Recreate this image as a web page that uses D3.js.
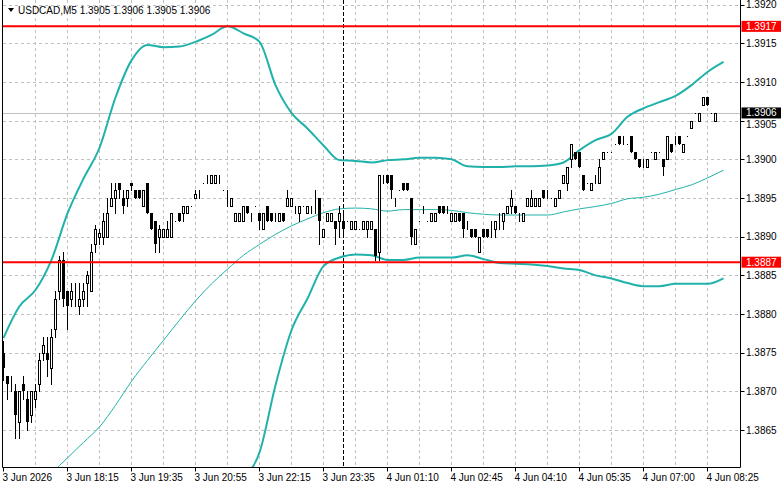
<!DOCTYPE html>
<html><head><meta charset="utf-8">
<script src="https://cdn.jsdelivr.net/npm/d3@7"></script>
<style>
body{margin:0;background:#fff}
svg{display:block}
text{font-family:"Liberation Sans",Arial,sans-serif;font-size:10px}
</style>
</head><body>
<svg id="chart" width="781" height="489"></svg>
<script>
// ---------- data ----------
const symbolName = "USDCAD,M5";
const headerOHLC = ["1.3905", "1.3906", "1.3905", "1.3906"];
const priceTicks = [1.3920, 1.3915, 1.3910, 1.3905, 1.3900, 1.3895, 1.3890, 1.3885, 1.3880, 1.3875, 1.3870, 1.3865];
const timeLabels = ["3 Jun 2026", "3 Jun 18:15", "3 Jun 19:35", "3 Jun 20:55", "3 Jun 22:15", "3 Jun 23:35",
  "4 Jun 01:10", "4 Jun 02:45", "4 Jun 04:10", "4 Jun 05:35", "4 Jun 07:00", "4 Jun 08:25"];
const timeLabelBars = [0, 16, 32, 48, 64, 80, 96, 112, 128, 144, 160, 176];
const gridBars = [8, 16, 24, 32, 40, 48, 56, 64, 72, 80, 88, 96, 104, 112, 120, 128, 136, 144, 152, 160, 168, 176];
const daySeparatorBar = 85;

const open = [1.38750,1.3872,1.3871,1.3870,1.3866,1.3871,1.3869,1.3867,1.3869,1.3871,
 1.3875,1.3875,1.3873,1.3878,1.3883,1.3887,1.3883,1.3882,1.3883,1.3881,
 1.3882,1.3884,1.3883,1.3889,1.3890,1.3890,1.3890,1.3894,1.3895,1.3897,
 1.3895,1.3895,1.3897,1.3896,1.3896,1.3894,1.3897,1.3893,1.3892,1.3890,
 1.3890,1.3890,1.3890,1.3892,1.3893,1.3893,1.3893,1.3894,1.3895,1.3896,
 1.3897,1.3898,1.3897,1.3897,1.3898,1.3896,1.3895,1.3894,1.3892,1.3892,
 1.3892,1.3894,1.3893,1.3894,1.3893,1.3891,1.3894,1.3893,1.3893,1.3892,
 1.3893,1.3894,1.3894,1.3894,1.3893,1.3894,1.3893,1.3894,1.3894,1.3895,
 1.3890,1.3892,1.3892,1.3892,1.3892,1.3892,1.3892,1.3891,1.3891,1.3891,
 1.3891,1.3891,1.3891,1.3891,1.3888,1.3898,1.3898,1.3898,1.3895,1.3896,
 1.3897,1.3897,1.3895,1.3889,1.3892,1.3893,1.3892,1.3892,1.3892,1.3894,
 1.3894,1.3893,1.3892,1.3892,1.3893,1.3893,1.3892,1.3891,1.3891,1.3888,
 1.3891,1.3891,1.3891,1.3891,1.3892,1.3892,1.3893,1.3894,1.3894,1.3893,
 1.3892,1.3894,1.3894,1.3894,1.3894,1.3896,1.3896,1.3895,1.3894,1.3895,
 1.3897,1.3897,1.3900,1.3901,1.3901,1.3898,1.3897,1.3896,1.3898,1.3897,
 1.3900,1.3901,1.3901,1.3902,1.3903,1.3903,1.3902,1.3903,1.3901,1.3900,
 1.3900,1.3899,1.3901,1.3900,1.3901,1.3900,1.3900,1.3902,1.3903,1.3903,
 1.3901,1.3903,1.3904,1.3906,1.3905,1.3907,1.3908,1.3906,1.3905];
const high = [1.38765,1.3872,1.3872,1.3871,1.3870,1.3872,1.3870,1.3870,1.3871,1.3875,
 1.3877,1.3877,1.3878,1.3883,1.38875,1.3888,1.3883,1.3884,1.3884,1.3884,
 1.3884,1.38855,1.3889,1.38915,1.3891,1.3893,1.3895,1.3897,1.3897,1.3897,
 1.3896,1.3896,1.3897,1.3896,1.3896,1.3896,1.3897,1.3893,1.3892,1.38915,
 1.3891,1.3892,1.3893,1.3892,1.3893,1.3894,1.3894,1.3894,1.3896,1.3896,
 1.3897,1.3898,1.3898,1.3898,1.3898,1.3896,1.3896,1.3895,1.3893,1.3893,
 1.3894,1.3894,1.3893,1.3894,1.3893,1.3893,1.3894,1.3893,1.3893,1.3893,
 1.3893,1.3896,1.3895,1.3894,1.3894,1.3894,1.3894,1.3894,1.3896,1.3895,
 1.3891,1.3893,1.3893,1.3892,1.3894,1.3893,1.3892,1.3892,1.3892,1.3891,
 1.3892,1.3892,1.3892,1.3891,1.3898,1.3898,1.3898,1.3898,1.3895,1.3896,
 1.3897,1.3897,1.3895,1.3891,1.3892,1.3894,1.3892,1.3893,1.3893,1.3894,
 1.3894,1.3894,1.3893,1.3893,1.3893,1.3893,1.3892,1.3891,1.3891,1.3890,
 1.3891,1.3891,1.3892,1.3892,1.3893,1.3893,1.3894,1.3896,1.3894,1.3893,
 1.3893,1.3895,1.3896,1.3895,1.3895,1.3896,1.3896,1.3895,1.3895,1.3896,
 1.3898,1.3899,1.3902,1.3901,1.3901,1.3898,1.3897,1.3897,1.3898,1.3900,
 1.3901,1.3901,1.3901,1.3902,1.3903,1.3903,1.3902,1.3903,1.3901,1.3900,
 1.3900,1.3900,1.3901,1.3901,1.3901,1.3900,1.3903,1.3902,1.3903,1.3903,
 1.3902,1.3903,1.3905,1.3906,1.3906,1.3908,1.3908,1.3906,1.3906];
const low = [1.38715,1.3869,1.3870,1.3864,1.3864,1.3869,1.3865,1.3866,1.3868,1.3870,
 1.3874,1.3872,1.3871,1.3877,1.3882,1.3881,1.3878,1.3881,1.3881,1.3880,
 1.3881,1.3881,1.3883,1.3888,1.3889,1.3889,1.3890,1.3894,1.3893,1.3895,
 1.3893,1.3894,1.3896,1.3895,1.3895,1.3894,1.3893,1.3891,1.3888,1.3888,
 1.3890,1.3890,1.3890,1.3892,1.3892,1.3892,1.3893,1.3894,1.3895,1.3895,
 1.3897,1.3897,1.3897,1.3897,1.3897,1.3896,1.3894,1.3894,1.3892,1.3892,
 1.3892,1.3893,1.3892,1.3894,1.3891,1.3891,1.3892,1.3892,1.3892,1.3892,
 1.3892,1.3894,1.3894,1.3893,1.3892,1.3894,1.3893,1.3893,1.3893,1.3889,
 1.3890,1.3892,1.3892,1.3889,1.3890,1.3890,1.3892,1.3891,1.3891,1.3891,
 1.3891,1.3890,1.3891,1.3887,1.3887,1.3897,1.3897,1.3895,1.3894,1.3896,
 1.3896,1.3896,1.3889,1.3889,1.3892,1.3893,1.3892,1.3892,1.3892,1.3893,
 1.3893,1.3893,1.3892,1.3892,1.3892,1.3890,1.3891,1.3890,1.3890,1.3888,
 1.3890,1.3890,1.3890,1.3890,1.3891,1.3891,1.3893,1.3893,1.3893,1.3892,
 1.3892,1.3894,1.3894,1.3894,1.3894,1.3895,1.3895,1.3895,1.3894,1.3895,
 1.3897,1.3896,1.3899,1.3900,1.3899,1.3896,1.3897,1.3896,1.3897,1.3897,
 1.3900,1.3901,1.3901,1.3902,1.3902,1.3902,1.3902,1.3901,1.3900,1.3899,
 1.3899,1.3899,1.3901,1.3900,1.3901,1.3898,1.3900,1.3901,1.3902,1.3902,
 1.3901,1.3903,1.3904,1.3906,1.3905,1.3907,1.3907,1.3906,1.3905];
const close = [1.38730,1.3871,1.3871,1.3867,1.3870,1.3870,1.3866,1.3870,1.3870,1.3874,
 1.3876,1.3874,1.3877,1.3882,1.3887,1.3882,1.3881,1.3883,1.3883,1.3882,
 1.3883,1.3885,1.3888,1.3891,1.38905,1.3892,1.3893,1.3895,1.3896,1.3896,
 1.3894,1.3896,1.38965,1.3895,1.3895,1.3896,1.3893,1.3891,1.3889,1.3891,
 1.3891,1.3891,1.3893,1.3892,1.3892,1.3894,1.3894,1.3894,1.38955,1.3896,
 1.3897,1.3898,1.3898,1.3898,1.3898,1.3896,1.3895,1.3895,1.3893,1.3893,
 1.3894,1.3893,1.3893,1.3894,1.3892,1.3893,1.3892,1.3892,1.3893,1.3893,
 1.3892,1.3895,1.3895,1.3894,1.3894,1.3894,1.3894,1.3894,1.3894,1.3892,
 1.3891,1.3893,1.3893,1.3891,1.3893,1.3891,1.3892,1.3892,1.3892,1.3891,
 1.3892,1.3892,1.3892,1.38875,1.3898,1.3898,1.3897,1.3896,1.3895,1.3896,
 1.3896,1.3896,1.3890,1.3891,1.3892,1.3893,1.3892,1.3893,1.3893,1.3893,
 1.3893,1.3893,1.3893,1.3893,1.3892,1.3891,1.3892,1.3890,1.3890,1.3890,
 1.3890,1.3890,1.3891,1.3892,1.3892,1.3893,1.3894,1.3895,1.3893,1.3893,
 1.3893,1.3895,1.3895,1.3895,1.3895,1.3895,1.3896,1.3895,1.3895,1.3896,
 1.3898,1.3899,1.3902,1.3900,1.3899,1.3896,1.3897,1.3897,1.3898,1.3899,
 1.3901,1.3901,1.3901,1.3902,1.3902,1.3903,1.3902,1.3901,1.3900,1.3899,
 1.3900,1.3900,1.3901,1.3901,1.3901,1.3899,1.3903,1.3901,1.3903,1.3902,
 1.3902,1.3903,1.3905,1.3906,1.3906,1.3908,1.3907,1.3906,1.3906];

// Bollinger bands, read every 4 bars
const bandBars = d3.range(0, 181, 4);
const bbUpper = [1.38769,1.38810,1.38831,1.38870,1.38930,1.38975,1.39015,1.39080,1.39128,1.39148,
 1.39145,1.39146,1.39152,1.39161,1.39172,1.39163,1.39152,1.39096,1.39060,1.39040,
 1.39018,1.38999,1.38998,1.38996,1.38999,1.39000,1.39002,1.39002,1.39000,1.38991,
 1.38990,1.38990,1.38991,1.38991,1.38992,1.38996,1.39012,1.39025,1.39033,1.39055,
 1.39066,1.39074,1.39082,1.39096,1.39113,1.39126];
const bbMiddle = [1.38532,1.38553,1.38573,1.38594,1.38614,1.38634,1.38654,1.38682,1.38713,1.38740,
 1.38766,1.38792,1.38817,1.38839,1.38858,1.38876,1.38890,1.38903,1.38914,1.38923,
 1.38931,1.38936,1.38937,1.38936,1.38933,1.38935,1.38935,1.38935,1.38934,1.38931,
 1.38929,1.38928,1.38928,1.38928,1.38928,1.38932,1.38936,1.38939,1.38943,1.38949,
 1.38951,1.38955,1.38961,1.38967,1.38976,1.38986];
const bbLower = [null,null,null,null,null,null,null,null,null,null,
 null,null,null,null,null,1.38589,1.38621,1.38708,1.38779,1.38820,
 1.38862,1.38873,1.38877,1.38876,1.38870,1.38870,1.38873,1.38873,1.38873,1.38876,
 1.38871,1.38866,1.38865,1.38864,1.38862,1.38859,1.38857,1.38850,1.38846,1.38840,
 1.38836,1.38836,1.38839,1.38839,1.38839,1.38846];

const levelValues = [1.39172, 1.38867];
const levelLabels = ["1.3917", "1.3887"];
const lastPrice = 1.39060;
const lastPriceLabel = "1.3906";

// ---------- drawing ----------
const svg = d3.select("#chart");
const W = 781, H = 489;
const plotL = 2.5, plotR = 740.5, plotB = 467.5;
const x = d3.scaleLinear().domain([0, 180]).range([3.5, 723.5]);
const y = d3.scaleLinear().domain([1.3865, 1.3920]).range([430, 4.7]);
const ry = v => Math.round(y(v)) + 0.5;
const teal = "#20b2aa";

svg.append("rect").attr("width", W).attr("height", H).attr("fill", "#fff");
svg.append("defs").append("clipPath").attr("id", "clip")
  .append("rect").attr("x", 3).attr("y", 0).attr("width", plotR - 3).attr("height", plotB);

const plot = svg.append("g").attr("clip-path", "url(#clip)");

// grid
plot.selectAll(".hg").data(priceTicks).join("line")
  .attr("x1", 3).attr("x2", plotR).attr("y1", d => ry(d)).attr("y2", d => ry(d))
  .attr("stroke", "#c0c0c0").attr("stroke-dasharray", "3,3");
plot.selectAll(".vg").data(gridBars).join("line")
  .attr("x1", d => x(d)).attr("x2", d => x(d)).attr("y1", 0).attr("y2", plotB)
  .attr("stroke", "#c0c0c0").attr("stroke-dasharray", "3,3");

// day separator
plot.append("line").attr("x1", x(daySeparatorBar)).attr("x2", x(daySeparatorBar))
  .attr("y1", 0).attr("y2", plotB).attr("stroke", "#000").attr("stroke-dasharray", "4,2");

// current price line
plot.append("line").attr("x1", 3).attr("x2", plotR).attr("y1", ry(lastPrice)).attr("y2", ry(lastPrice))
  .attr("stroke", "#c0c0c0");

// bands
const bandLine = vals => d3.line()
  .defined((d, i) => vals[i] != null)
  .x((d, i) => x(bandBars[i])).y((d, i) => y(vals[i]))
  .curve(d3.curveMonotoneX)(vals);
plot.append("path").attr("d", bandLine(bbMiddle)).attr("fill", "none").attr("stroke", teal).attr("stroke-width", 1);
plot.append("path").attr("d", bandLine(bbUpper)).attr("fill", "none").attr("stroke", teal).attr("stroke-width", 2);
plot.append("path").attr("d", bandLine(bbLower)).attr("fill", "none").attr("stroke", teal).attr("stroke-width", 2);

// candles
const idx = d3.range(open.length);
const cg = plot.append("g");
cg.selectAll(".wick").data(idx).join("line")
  .attr("x1", i => x(i)).attr("x2", i => x(i))
  .attr("y1", i => ry(high[i]) - 0.5).attr("y2", i => ry(low[i]) + 0.5)
  .attr("stroke", "#000");
cg.selectAll(".body").data(idx).join("rect")
  .attr("x", i => x(i) - 1.5 + (close[i] >= open[i] ? 0.5 : 0))
  .attr("y", i => Math.min(ry(open[i]), ry(close[i])) - (close[i] >= open[i] ? 0 : 0.5))
  .attr("width", i => close[i] >= open[i] ? 2 : 3)
  .attr("height", i => Math.max(Math.abs(ry(open[i]) - ry(close[i])), close[i] >= open[i] ? 0 : 1))
  .attr("fill", i => close[i] >= open[i] ? "#fff" : "#000")
  .attr("stroke", i => close[i] >= open[i] ? "#000" : "none");

// resistance/support lines
plot.selectAll(".lvl").data(levelValues).join("line")
  .attr("x1", 3).attr("x2", plotR).attr("y1", d => y(d)).attr("y2", d => y(d))
  .attr("stroke", "#ff0000").attr("stroke-width", 2);

// frame
svg.append("path").attr("d", `M${plotL},0V${plotB}H${plotR}V0`).attr("fill", "none").attr("stroke", "#000");

// tags (level + last price)
const tags = levelValues.map((v, i) => ({v, t: levelLabels[i], bg: "#ff0000"}))
  .concat([{v: lastPrice, t: lastPriceLabel, bg: "#000"}]);
const tagH = 11;

// price axis ticks & labels (pushed below a tag when they would collide)
svg.selectAll(".pt").data(priceTicks).join("line")
  .attr("x1", plotR).attr("x2", plotR + 4).attr("y1", d => ry(d)).attr("y2", d => ry(d)).attr("stroke", "#000");
const labelBaseline = d => {
  let base = y(d) + 3.5;
  tags.forEach(t => {
    const top = y(t.v) - tagH / 2, bot = y(t.v) + tagH / 2;
    if (base > top && base - 9.5 < bot) base = d < t.v ? bot + 9.6 : top - 2.6;
  });
  return base;
};
svg.selectAll(".pl").data(priceTicks).join("text")
  .attr("x", 746).attr("y", labelBaseline).attr("fill", "#000")
  .text(d => d.toFixed(4));

const tg = svg.selectAll(".tag").data(tags).join("g");
tg.append("rect").attr("x", plotR + 1).attr("y", d => y(d.v) - tagH / 2).attr("width", W - plotR - 1).attr("height", tagH)
  .attr("fill", d => d.bg);
tg.append("text").attr("x", 746).attr("y", d => y(d.v) + 3.5).attr("fill", "#fff").text(d => d.t);

// time axis
svg.selectAll(".tt").data(timeLabelBars).join("line")
  .attr("x1", d => x(d)).attr("x2", d => x(d)).attr("y1", plotB).attr("y2", plotB + 4).attr("stroke", "#000");
svg.selectAll(".tl").data(timeLabelBars).join("text")
  .attr("x", d => x(d) - 1).attr("y", 481).attr("fill", "#000")
  .text((d, i) => timeLabels[i]);

// header
svg.append("path").attr("d", "M8,8H14L11,12Z").attr("fill", "#000");
svg.append("text").attr("x", 18).attr("y", 14).attr("fill", "#000")
  .text(symbolName + "  " + headerOHLC.join(" "));
</script>
</body></html>
